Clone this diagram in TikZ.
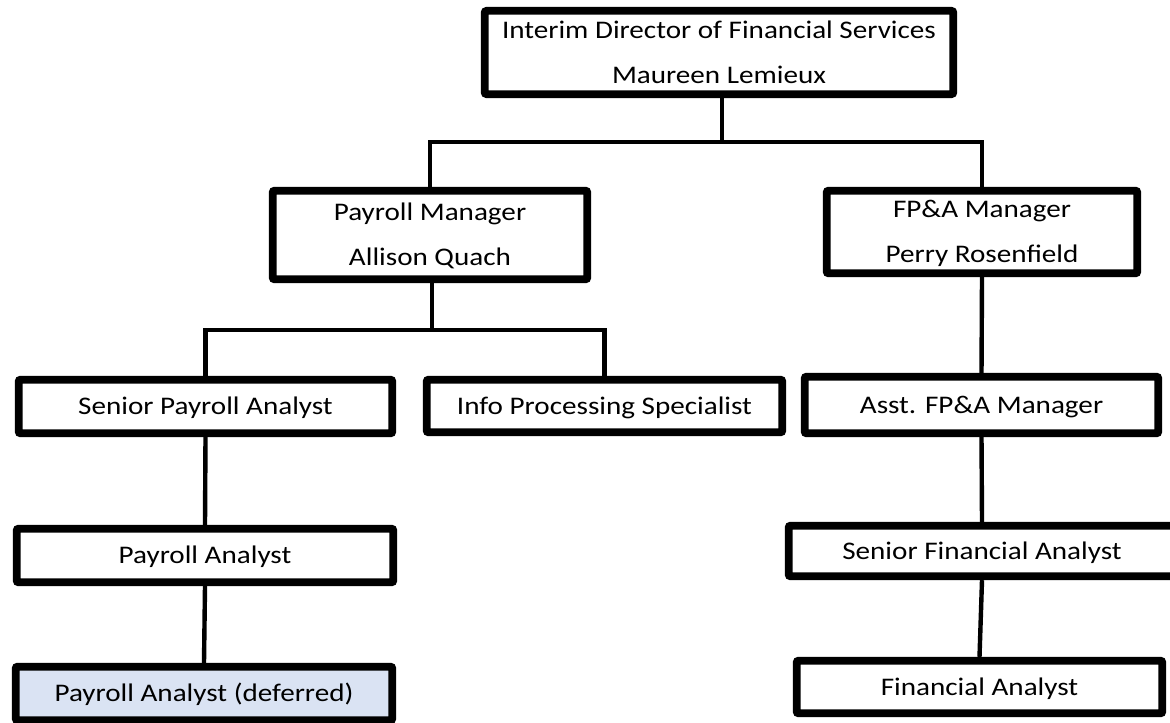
\documentclass[tikz,border=0pt]{standalone}
\usepackage{fontspec}
\setmainfont{Carlito}[FakeStretch=1.15]
\usetikzlibrary{shadows}
\definecolor{deferblue}{HTML}{DAE3F3}
\begin{document}
\begin{tikzpicture}[x=0.75pt,y=-0.75pt,
  box/.style={draw=black, line width=5.8pt, rounded corners=1.5pt, fill=white,
    inner sep=0pt, align=center, font=\fontsize{19}{33.75}\selectfont,
    text height=12.2pt, text depth=0pt,
    drop shadow={opacity=0.25, shadow xshift=1pt, shadow yshift=-1.5pt, fill=black}},
  twoline/.style={text height=45.95pt, text depth=0pt},
  conn/.style={line width=3.3pt}]
\useasboundingbox (0,0) rectangle (1170,723);

\node[box, twoline, minimum width=351.5pt, minimum height=62.5pt] (dir) at (719,52.5)
  {Interim Director of Financial Services\\Maureen Lemieux};
\node[box, twoline, minimum width=236pt, minimum height=66.5pt] (pm) at (430,235)
  {Payroll Manager\\Allison Quach};
\node[box, twoline, minimum width=233pt, minimum height=62pt] (fp) at (982,232)
  {FP\&A Manager\\Perry Rosenfield};
\node[box, minimum width=280.25pt, minimum height=40.25pt] (spa) at (205.5,406.5)
  {Senior Payroll Analyst};
\node[box, minimum width=266.75pt, minimum height=39.5pt] (ips) at (604.5,406)
  {Info Processing Specialist};
\node[box, minimum width=265.25pt, minimum height=42.5pt] (afp) at (981.5,405)
  {Asst. FP\&A Manager};
\node[box, minimum width=282.5pt, minimum height=40.25pt] (pa) at (205,555.5)
  {Payroll Analyst};
\node[box, fill=deferblue, minimum width=282.5pt, minimum height=40.25pt] (pad) at (204,693.5)
  {Payroll Analyst (deferred)};
\node[box, minimum width=290pt, minimum height=38pt] (sfa) at (982,551)
  {Senior Financial Analyst};
\node[box, minimum width=274.25pt, minimum height=39.5pt] (fa) at (979.5,687)
  {Financial Analyst};

\coordinate (j1) at (722,142);
\coordinate (j2) at (432,330);

\draw[conn] (dir.south -| j1) -- (j1);
\draw[conn] (j1) -| (pm.north);
\draw[conn] (j1) -| (fp.north);
\draw[conn] (pm.south -| j2) -- (j2);
\draw[conn] (j2) -| (spa.north);
\draw[conn] (j2) -| (ips.north);
\draw[conn] (spa.south) -- (pa.north);
\draw[conn] (pa.south) -- (pad.north);
\draw[conn] (fp.south) -- (afp.north);
\draw[conn] (afp.south) -- (sfa.north);
\draw[conn] (sfa.south) -- (fa.north);
\end{tikzpicture}
\end{document}
